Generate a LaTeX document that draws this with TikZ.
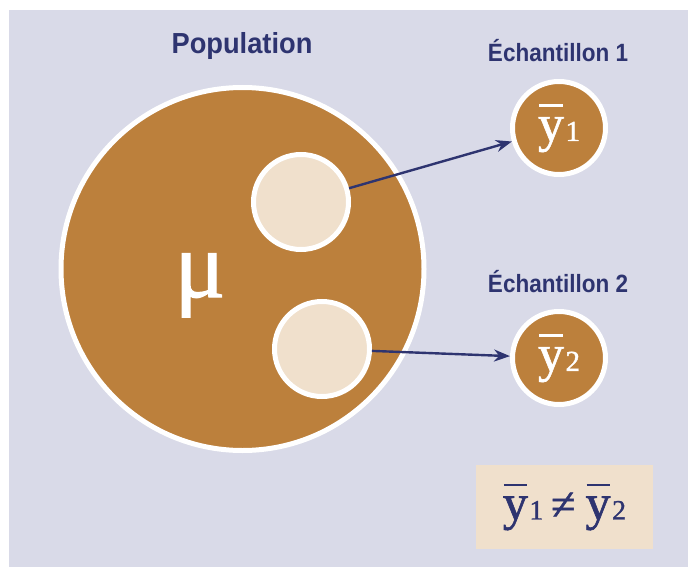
\documentclass[tikz,border=0pt]{standalone}
\usepackage{fontspec}
\setmainfont{Liberation Sans}
\newfontfamily\tnr[FakeBold=1.2]{Liberation Serif}
\usetikzlibrary{arrows.meta}
\definecolor{bgc}{HTML}{D9DAE8}
\definecolor{popbrown}{HTML}{BC803C}
\definecolor{creamc}{HTML}{F0E0CC}
\definecolor{navyc}{HTML}{2E3470}
\newcommand\ybar[1]{{\tnr\rlap{\hspace{0.02em}\raisebox{0.66em}{\rule{0.46em}{0.055em}}}y\kern0.03em\scalebox{0.56}{#1}}}
\tikzset{
  popcircle/.style={circle, draw=white, line width=5pt, fill=popbrown, minimum size=363pt, inner sep=0pt},
  subcircle/.style={circle, draw=white, line width=5pt, fill=creamc, minimum size=95pt, inner sep=0pt},
  samplecircle/.style={circle, draw=white, line width=5pt, fill=popbrown, minimum size=93pt, inner sep=0pt,
    text=white, font=\fontsize{52}{60}\selectfont},
  title/.style={text=navyc, anchor=base, inner sep=0pt},
  link/.style={draw=navyc, line width=2.4pt, -{Stealth[length=16pt,width=12pt]}},
}
\begin{document}
\begin{tikzpicture}[x=1pt,y=-1pt]
\useasboundingbox (0,0) rectangle (688,567);
\fill[bgc] (9,10) rectangle (688,567);
\node[popcircle] (pop) at (242.5,269) {};
\node[subcircle] (s1) at (301,202) {};
\node[subcircle] (s2) at (322,349) {};
\node[text=white, anchor=base, inner sep=0pt, font=\tnr\fontsize{95}{100}\selectfont] (mu) at (200,297) {μ};
\node[title, font=\bfseries\fontsize{29}{32}\selectfont] (lpop) at (242,54) {\scalebox{0.94}[1]{Population}};
\node[title, font=\bfseries\fontsize{25}{28}\selectfont] (l1) at (558,62) {\scalebox{0.9}[1]{Échantillon 1}};
\node[title, font=\bfseries\fontsize{25}{28}\selectfont] (l2) at (558,292) {\scalebox{0.9}[1]{Échantillon 2}};
\node[samplecircle] (t1) at (559,128) {\ybar{1}};
\node[samplecircle] (t2) at (559,358) {\ybar{2}};
\draw[link] (s1) -- (t1);
\draw[link] (s2) -- (t2);
\node[fill=creamc, minimum width=177pt, minimum height=84pt, inner sep=0pt] (box) at (564.5,507) {};
\node[text=navyc, font=\fontsize{50}{60}\selectfont, inner sep=0pt] (eq) at (box.center) {\ybar{1}\kern0.15em{\tnr\scalebox{0.9}{≠}}\kern0.2em\ybar{2}};
\end{tikzpicture}
\end{document}
